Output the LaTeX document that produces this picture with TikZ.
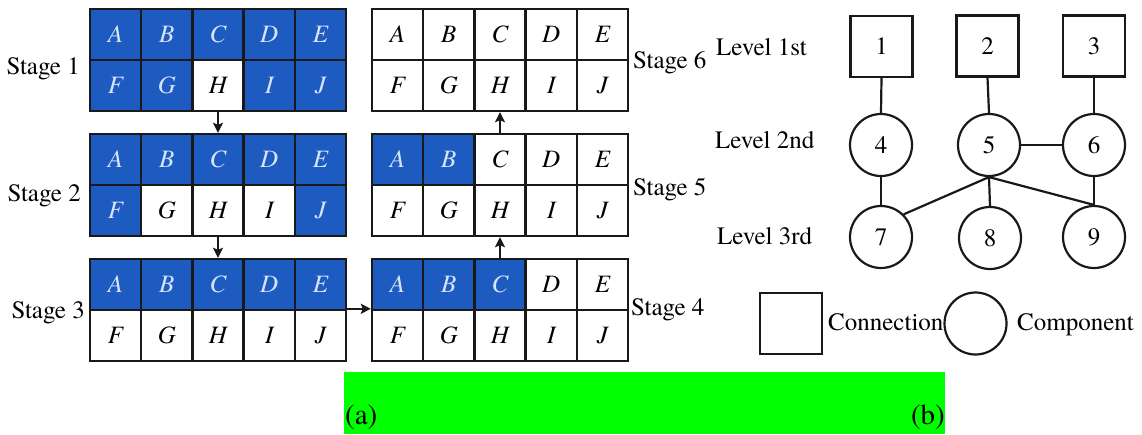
\documentclass[tikz,border=0pt]{standalone}
\usepackage{fontspec}
\setmainfont{texgyretermes}[Extension=.otf, UprightFont=*-regular, ItalicFont=*-italic, BoldFont=*-bold, BoldItalicFont=*-bolditalic]
\usetikzlibrary{arrows.meta}
\definecolor{cellblue}{RGB}{30,91,192}
\definecolor{celltxt}{RGB}{215,228,250}
\definecolor{bargreen}{RGB}{0,255,0}
\definecolor{ink}{RGB}{25,25,25}
\tikzset{
  cellbox/.style={draw=ink, line width=2.4pt, minimum width=51.2pt, minimum height=51pt,
    inner sep=0pt, font=\fontsize{25}{29}\selectfont\itshape},
  stagelbl/.style={font=\fontsize{25}{30}\selectfont, inner sep=0pt},
  connbox/.style={draw=ink, line width=2.2pt, minimum width=62pt, minimum height=61pt,
    inner sep=0pt, font=\fontsize{25}{29}\selectfont},
  compbox/.style={draw=ink, circle, line width=2.2pt, minimum size=62pt,
    inner sep=0pt, font=\fontsize{25}{29}\selectfont},
  flow/.style={draw=ink, line width=2.2pt, -{Stealth[length=10pt,width=10pt,inset=2pt]}},
  link/.style={draw=ink, line width=2.2pt},
  caplbl/.style={font=\fontsize{29}{34}\selectfont, inner sep=0pt}
}
\newcommand\stagegrid[4]{%
  \foreach \L/\f [count=\i from 0] in {#4} {%
    \pgfmathtruncatemacro\col{mod(\i,5)}%
    \pgfmathtruncatemacro\row{int(\i/5)}%
    \ifnum\f=1 \def\fc{cellblue}\def\tc{celltxt}\else\def\fc{white}\def\tc{black}\fi
    \node[cellbox, fill=\fc, text=\tc] (#1\L) at ({#2+(\col+0.5)*51.2},{#3+(\row+0.5)*51}) {\L};
  }}
\begin{document}
\begin{tikzpicture}[x=1pt,y=-1pt]
\useasboundingbox (0,0) rectangle (1142,434);
% grids
\stagegrid{s1}{90}{9}{A/1,B/1,C/1,D/1,E/1,F/1,G/1,H/0,I/1,J/1}
\stagegrid{s2}{90}{134}{A/1,B/1,C/1,D/1,E/1,F/1,G/0,H/0,I/0,J/1}
\stagegrid{s3}{90}{259}{A/1,B/1,C/1,D/1,E/1,F/0,G/0,H/0,I/0,J/0}
\stagegrid{s4}{372}{259}{A/1,B/1,C/1,D/0,E/0,F/0,G/0,H/0,I/0,J/0}
\stagegrid{s5}{372}{134}{A/1,B/1,C/0,D/0,E/0,F/0,G/0,H/0,I/0,J/0}
\stagegrid{s6}{372}{9}{A/0,B/0,C/0,D/0,E/0,F/0,G/0,H/0,I/0,J/0}
% stage labels
\node[stagelbl, anchor=base east] (st1) at (80,74) {Stage 1};
\node[stagelbl, anchor=base east] (st2) at (81,201) {Stage 2};
\node[stagelbl, anchor=base east] (st3) at (85,318) {Stage 3};
\node[stagelbl, anchor=base west] (st4) at (631,315) {Stage 4};
\node[stagelbl, anchor=base west] (st5) at (633,195) {Stage 5};
\node[stagelbl, anchor=base west] (st6) at (633,68) {Stage 6};
% flow arrows
\draw[flow] (s1H.south) -- (s2C.north);
\draw[flow] (s2H.south) -- (s3C.north);
\draw[flow] (s3J.north east) -- (s4F.north west);
\draw[flow] (s4C.north) -- (s5H.south);
\draw[flow] (s5C.north) -- (s6H.south);
% levels
\node[stagelbl, anchor=base west] (lv1) at (716,55) {Level 1st};
\node[stagelbl, anchor=base west] (lv2) at (715,148) {Level 2nd};
\node[stagelbl, anchor=base west] (lv3) at (717,244) {Level 3rd};
% graph
\node[connbox] (n1) at (881.5,46.5) {1};
\node[connbox] (n2) at (987.5,46) {2};
\node[connbox] (n3) at (1094,46) {3};
\node[compbox] (n4) at (881,145) {4};
\node[compbox] (n5) at (989,145) {5};
\node[compbox] (n6) at (1094,145) {6};
\node[compbox] (n7) at (881,237) {7};
\node[compbox] (n8) at (990,238) {8};
\node[compbox] (n9) at (1094,237) {9};
\draw[link] (n1.south) -- (n4.north);
\draw[link] (n2.south) -- (n5.north);
\draw[link] (n3.south) -- (n6.north);
\draw[link] (n5.east) -- (n6.west);
\draw[link] (n4.south) -- (n7.north);
\draw[link] (n5.south) -- (n7.north east);
\draw[link] (n5.south) -- (n8.north);
\draw[link] (n5.south) -- (n9.north);
\draw[link] (n6.south) -- (n9.north);
% legend
\node[connbox] (lgc) at (791,323.5) {};
\node[stagelbl, anchor=base west] (lgct) at (828,330) {Connection};
\node[compbox] (lgp) at (975.5,323.5) {};
\node[stagelbl, anchor=base west] (lgpt) at (1017,330) {Component};
% caption bar
\fill[bargreen] (344,372) rectangle (945,434);
\node[caplbl, anchor=base west] (capa) at (345,424) {(a)};
\node[caplbl, anchor=base east] (capb) at (945,424) {(b)};
\end{tikzpicture}
\end{document}
